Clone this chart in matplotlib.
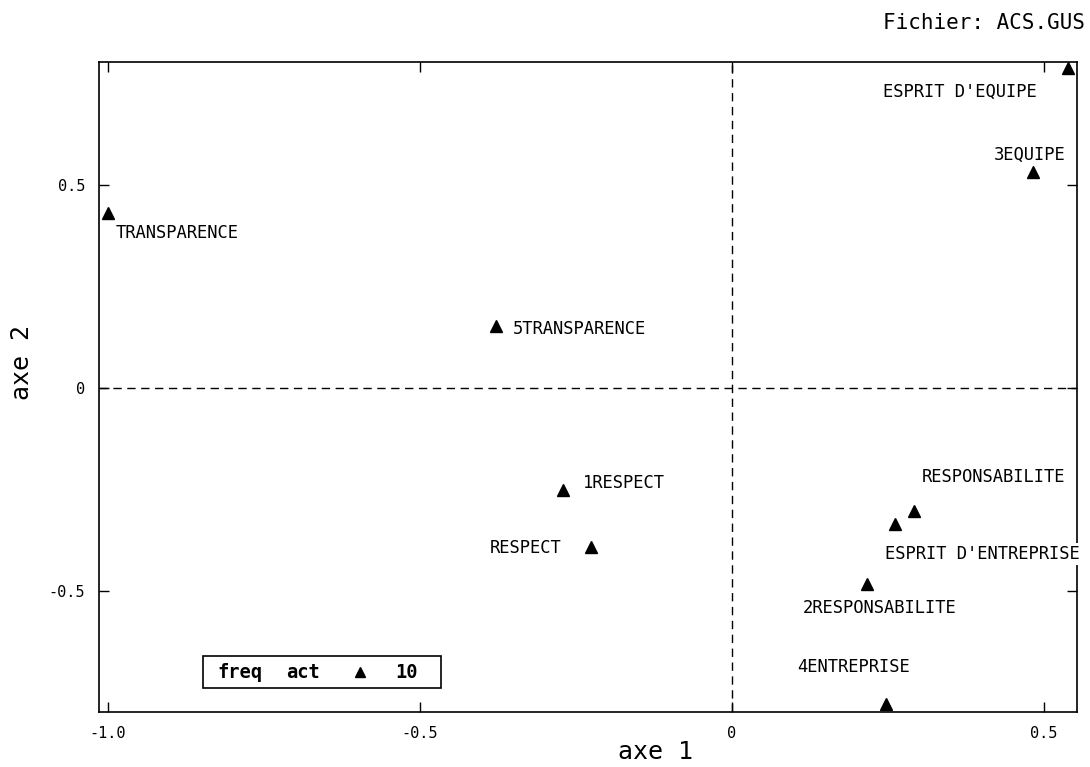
import matplotlib
matplotlib.use("Agg")
import matplotlib.pyplot as plt
from matplotlib.patches import Rectangle

# coordonnees des modalites sur les axes 1 et 2
labels = ["ESPRIT D'EQUIPE", "3EQUIPE", "TRANSPARENCE", "5TRANSPARENCE",
          "1RESPECT", "RESPECT", "RESPONSABILITE", "ESPRIT D'ENTREPRISE",
          "2RESPONSABILITE", "4ENTREPRISE"]
axe1 = [0.538, 0.482, -1.000, -0.378, -0.271, -0.226, 0.292, 0.261, 0.216, 0.247]
axe2 = [0.788, 0.532, 0.431, 0.153, -0.251, -0.392, -0.303, -0.335, -0.483, -0.778]
freq_act = 10

# decalage des etiquettes (pixels) et alignement
offsets = [(-31, -24, "right"), (-3, 17, "center"), (8, -20, "left"),
           (17, -3, "left"), (20, 7, "left"), (-29, -1, "right"),
           (8, 34, "left"), (-10, -30, "left"), (-64, -24, "left"),
           (-89, 37, "left")]

plt.rcParams["font.family"] = ["DejaVu Sans Mono"]

fig = plt.figure(figsize=(10.9, 7.67), dpi=100)
ax = fig.add_axes([99 / 1090, 1 - 712 / 767, 978 / 1090, 650 / 767])

ax.set_xlim(-1.0144, 0.553)
ax.set_ylim(-0.798, 0.803)

ax.axhline(0, color="black", lw=1, ls=(0, (6, 4)), zorder=1)
ax.axvline(0, color="black", lw=1, ls=(0, (6, 4)), zorder=1)

ax.plot(axe1, axe2, ls="none", marker="^", ms=8, color="black", zorder=3)

for x, y, lab, (dx, dy, ha) in zip(axe1, axe2, labels, offsets):
    ax.annotate(lab, (x, y), xytext=(dx, dy), textcoords="offset pixels",
                ha=ha, va="center", fontsize=12.3, zorder=4,
                bbox=dict(boxstyle="square,pad=0.1", fc="white", ec="none"))

ax.set_xticks([-1.0, -0.5, 0, 0.5])
ax.set_xticklabels(["-1.0", "-0.5", "0", "0.5"])
ax.set_yticks([-0.5, 0, 0.5])
ax.set_yticklabels(["-0.5", "0", "0.5"])
ax.tick_params(direction="in", length=7, width=1, labelsize=11, pad=10,
               top=True, right=True)
for s in ax.spines.values():
    s.set_linewidth(1.2)

# cartouche de legende
ax.add_patch(Rectangle((0.1063, 0.0369), 0.2434, 0.0493, transform=ax.transAxes,
                       fc="white", ec="black", lw=1.2, zorder=5))
ax.text(0.1207, 0.0615, "freq", transform=ax.transAxes, ha="left",
        va="center", fontsize=13.5, fontweight="bold", zorder=6)
ax.text(0.1918, 0.0615, "act", transform=ax.transAxes, ha="left",
        va="center", fontsize=13.5, fontweight="bold", zorder=6)
ax.plot([0.2669], [0.0615], transform=ax.transAxes, marker="^", ms=7,
        color="black", ls="none", zorder=6, clip_on=False)
ax.text(0.3027, 0.0615, str(freq_act), transform=ax.transAxes, ha="left",
        va="center", fontsize=13.5, fontweight="bold", zorder=6)

fig.text(655 / 1090, 1 - 752 / 767, "axe 1", ha="center", va="center",
         fontsize=18)
fig.text(22 / 1090, 1 - 363 / 767, "axe 2", ha="center", va="center",
         fontsize=18, rotation=90)
fig.text(1085 / 1090, 1 - 23 / 767, "Fichier: ACS.GUS", ha="right",
         va="center", fontsize=15)

fig.savefig("out.png", dpi=100)
